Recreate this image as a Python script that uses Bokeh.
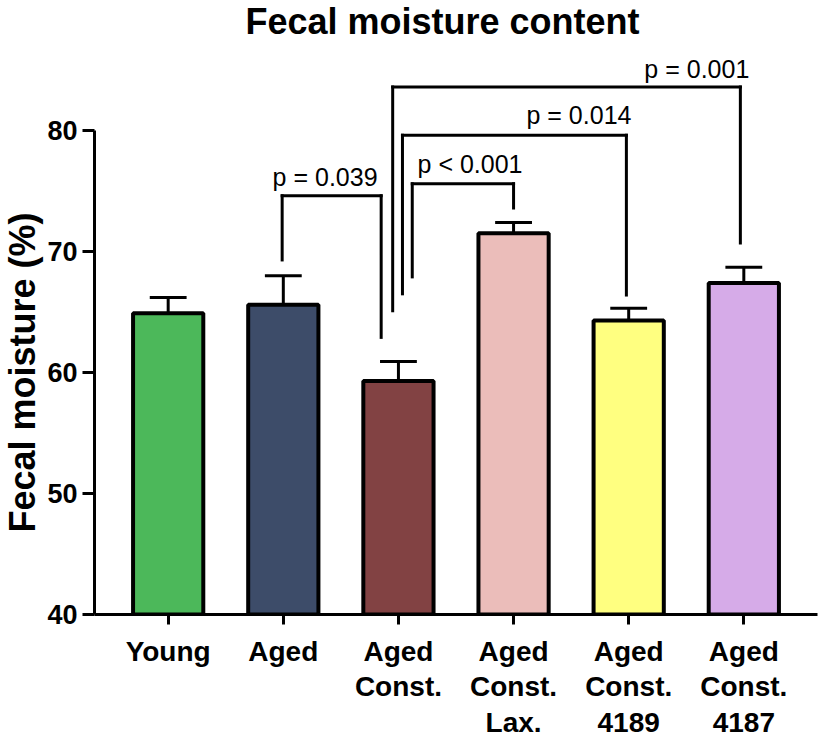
import math
from bokeh.plotting import figure
from bokeh.models import FactorRange, Range1d, FixedTicker, ColumnDataSource, Title
from bokeh.transform import dodge
from bokeh.core.properties import value
from bokeh.embed import file_html
from bokeh.resources import INLINE

# ---------------- data ----------------
categories = ["Young", "Aged", "Aged\nConst.", "Aged\nConst.\nLax.",
              "Aged\nConst.\n4189", "Aged\nConst.\n4187"]
means = [64.9, 65.6, 59.3, 71.5, 64.3, 67.4]
sems = [1.3, 2.4, 1.6, 0.9, 1.0, 1.3]
colors = ["#4CB85A", "#3D4C69", "#824243", "#EBBDBA", "#FFFF80", "#D6ABE8"]
y_ticks = [40, 50, 60, 70, 80]
chart_title = "Fecal moisture content"
y_title = "Fecal moisture (%)"

# pairwise comparisons
comp_left = ["Aged", "Aged\nConst.", "Aged\nConst.", "Aged\nConst."]
comp_right = ["Aged\nConst.", "Aged\nConst.\nLax.", "Aged\nConst.\n4189", "Aged\nConst.\n4187"]
comp_label = ["p = 0.039", "p < 0.001", "p = 0.014", "p = 0.001"]

# bracket geometry (annotation layout)
leg_left_off = [-0.01, 0.12, 0.035, -0.05]
leg_right_off = [-0.15, 0.0, -0.02, -0.03]
leg_left_bottom = [69.3, 67.9, 66.5, 65.1]
leg_right_bottom = [62.9, 73.6, 66.4, 70.7]
bracket_top = [74.6, 75.6, 79.6, 83.6]
label_cat = ["Aged", "Aged\nConst.\nLax.", "Aged\nConst.\n4189", "Aged\nConst.\n4187"]
label_x_off = [0.363, -0.378, -0.432, -0.408]
label_baseline = [76.15, 77.25, 81.3, 85.1]

FONT = "Liberation Sans"

p = figure(x_range=FactorRange(*categories, range_padding=0.14, range_padding_units="absolute"),
           y_range=Range1d(40, 90.74),
           width=824, height=740, output_backend="svg", toolbar_location=None,
           min_border_left=94, min_border_right=7, min_border_top=0, min_border_bottom=126)

p.outline_line_color = None
p.xgrid.grid_line_color = None
p.ygrid.grid_line_color = None
p.background_fill_color = "white"
p.border_fill_color = "white"

src = ColumnDataSource(dict(cat=categories, mean=means, err=[m + s for m, s in zip(means, sems)],
                            color=colors))

# error bars (upper only)
p.segment(x0="cat", x1="cat", y0="mean", y1="err", source=src, line_color="black", line_width=3)
p.segment(x0=dodge("cat", -0.16, range=p.x_range), x1=dodge("cat", 0.16, range=p.x_range),
          y0="err", y1="err", source=src, line_color="black", line_width=3)

p.vbar(x="cat", top="mean", bottom=40, width=0.61, source=src,
       fill_color="color", line_color="black", line_width=4)

# brackets
def syn(cat, off):
    return categories.index(cat) + 0.5 + off

bx0, by0, bx1, by1 = [], [], [], []
for i in range(len(comp_left)):
    xl = syn(comp_left[i], leg_left_off[i])
    xr = syn(comp_right[i], leg_right_off[i])
    bx0.append(xl); by0.append(leg_left_bottom[i]); bx1.append(xl); by1.append(bracket_top[i])
    bx0.append(xl); by0.append(bracket_top[i]); bx1.append(xr); by1.append(bracket_top[i])
    bx0.append(xr); by0.append(bracket_top[i]); bx1.append(xr); by1.append(leg_right_bottom[i])
p.segment(x0=bx0, y0=by0, x1=bx1, y1=by1, line_color="black", line_width=3, line_cap="square")

tsrc = ColumnDataSource(dict(x=[syn(c, o) for c, o in zip(label_cat, label_x_off)],
                             y=label_baseline, t=comp_label))
p.text(x="x", y="y", text="t", source=tsrc, text_font=value(FONT), text_font_size="25px",
       text_align="center", text_baseline="alphabetic", text_color="black")

# chart title, drawn inside the (tall) frame above the data
p.text(x=[syn("Aged\nConst.", 0.383)], y=[89.0], text=[chart_title], text_font=value(FONT),
       text_font_size="36px", text_font_style="bold", text_align="center",
       text_baseline="alphabetic", text_color="black")

# axes
ya = p.yaxis[0]
ya.bounds = (40, 80)
ya.ticker = FixedTicker(ticks=y_ticks)
ya.minor_tick_line_color = None
ya.axis_line_width = 3
ya.major_tick_line_width = 3
ya.major_tick_out = 12
ya.major_tick_in = 0
ya.major_label_standoff = 5
ya.major_label_text_font = FONT
ya.major_label_text_font_size = "27px"
ya.major_label_text_font_style = "bold"
ya.major_label_text_color = "black"

ytitle = Title(text=y_title, align="left", offset=82, vertical_align="top",
               standoff=0, text_font=FONT, text_font_size="36px", text_font_style="bold",
               text_color="black")
p.add_layout(ytitle, "left")

xa = p.xaxis[0]
xa.axis_line_width = 3
xa.major_tick_line_width = 3
xa.major_tick_out = 10
xa.major_tick_in = 0
xa.major_label_standoff = 11
xa.major_label_text_font = FONT
xa.major_label_text_font_size = "28px"
xa.major_label_text_font_style = "bold"
xa.major_label_text_color = "black"
xa.major_label_text_line_height = 1.15

open("out.html", "w").write(file_html(p, INLINE))
